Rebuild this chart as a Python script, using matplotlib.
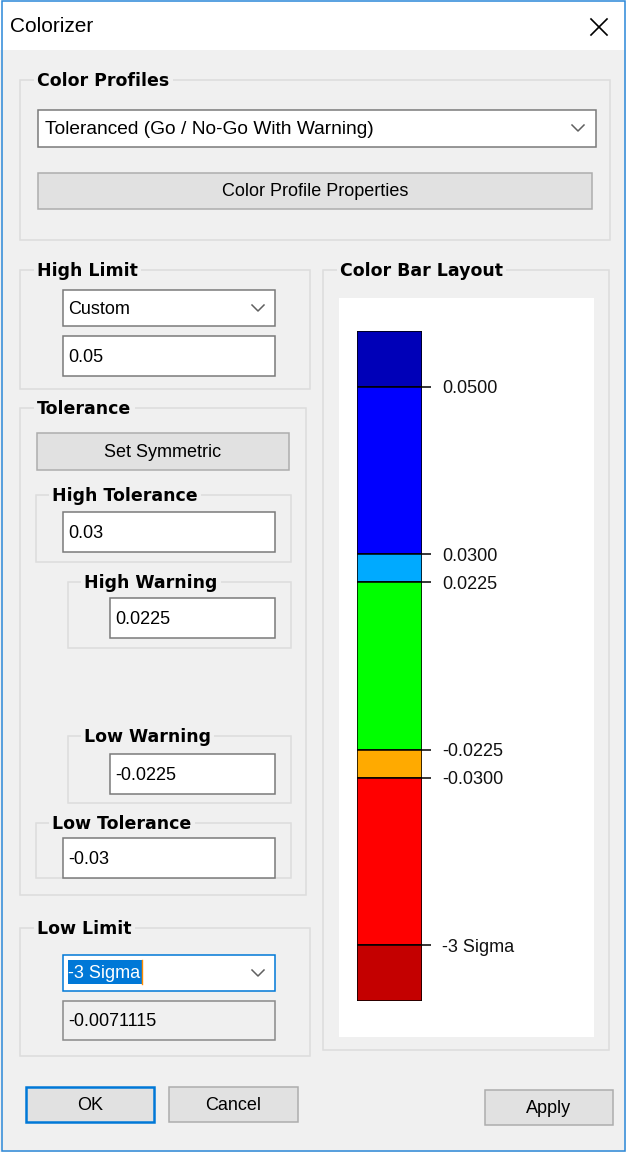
import matplotlib
matplotlib.use("Agg")
import matplotlib.pyplot as plt
from matplotlib.patches import Rectangle

# color bar layout data (top to bottom)
segment_colors = ['#0000b8', '#0000ff', '#00aaff', '#00ff00', '#ffaa00', '#ff0000', '#c40000']
segment_sizes = [2, 6, 1, 6, 1, 6, 2]
boundary_labels = ['0.0500', '0.0300', '0.0225', '-0.0225', '-0.0300', '-3 Sigma']

# dialog field values
profile_name = 'Toleranced (Go / No-Go With Warning)'
high_limit_mode = 'Custom'
high_limit = '0.05'
high_tolerance = '0.03'
high_warning = '0.0225'
low_warning = '-0.0225'
low_tolerance = '-0.03'
low_limit_mode = '-3 Sigma'
low_limit = '-0.0071115'

W, H = 626, 1152
BG = '#f0f0f0'
LINE = '#dcdcdc'
REG = 'Liberation Sans'
BOLD = 'DejaVu Sans'

fig = plt.figure(figsize=(W / 100, H / 100), dpi=100)
fig.patch.set_facecolor(BG)
ax = fig.add_axes([0, 0, 1, 1])
ax.set_xlim(0, W)
ax.set_ylim(H, 0)
ax.axis('off')


def rect(x0, y0, x1, y1, fc='none', ec='none', lw=0.75, z=1):
    ax.add_patch(Rectangle((x0, y0), x1 - x0, y1 - y0, facecolor=fc,
                           edgecolor=ec, linewidth=lw, zorder=z))


def group(x0, y0, x1, y1, label, lx):
    rect(x0, y0, x1, y1, ec=LINE, lw=1.1)
    ax.text(lx, y0 + 1, label, fontsize=12.5, fontweight='bold', family=BOLD,
            va='center', ha='left', zorder=3,
            bbox=dict(facecolor=BG, edgecolor='none', pad=2.5))


def edit(x0, y0, x1, y1, text, tx=None, fc='white', ec='#7a7a7a', fs=13):
    rect(x0, y0, x1, y1, fc=fc, ec=ec, lw=1.1, z=2)
    if text:
        ax.text(tx if tx else x0 + 5, (y0 + y1) / 2 + 1, text, fontsize=fs,
                family=REG, va='center', ha='left', zorder=4)


def chevron(x, y):
    ax.plot([x - 6, x, x + 6], [y - 3, y + 3, y - 3], color='#606060',
            lw=1.1, zorder=4)


def button(x0, y0, x1, y1, text, ec='#adadad', lw=1.1):
    rect(x0, y0, x1, y1, fc='#e1e1e1', ec=ec, lw=lw, z=2)
    ax.text((x0 + x1) / 2, (y0 + y1) / 2 + 1, text, fontsize=13, family=REG,
            va='center', ha='center', zorder=4)


# window frame and title bar
rect(0, 0, W, 50, fc='white')
rect(1.5, 0.5, W - 1.5, H - 1.5, ec='#2b88d8', lw=1.1, z=5)
ax.text(10, 27, 'Colorizer', fontsize=15, family=REG, va='center', ha='left')
ax.plot([591, 607], [19, 35], color='black', lw=1.2)
ax.plot([591, 607], [35, 19], color='black', lw=1.2)

# color profiles
group(20, 80, 610, 240, 'Color Profiles', 37)
edit(38, 110, 596, 147, profile_name, tx=45, fs=13.8)
chevron(578, 128)
button(38, 173, 592, 209, 'Color Profile Properties')

# high limit
group(20, 270, 310, 389, 'High Limit', 37)
edit(63, 290, 275, 326, high_limit_mode, tx=68)
chevron(258, 308)
edit(63, 336, 275, 376, high_limit, tx=68)

# tolerance
group(20, 408, 306, 895, 'Tolerance', 37)
button(37, 433, 289, 470, 'Set Symmetric')
group(36, 495, 291, 562, 'High Tolerance', 52)
edit(63, 512, 275, 552, high_tolerance, tx=68)
group(68, 582, 291, 648, 'High Warning', 84)
edit(110, 598, 275, 638, high_warning, tx=115)
group(68, 736, 291, 803, 'Low Warning', 84)
edit(110, 754, 275, 794, low_warning, tx=115)
group(36, 823, 291, 878, 'Low Tolerance', 52)
edit(63, 838, 275, 878, low_tolerance, tx=68)

# low limit
group(20, 928, 310, 1056, 'Low Limit', 37)
edit(63, 955, 275, 991, '', ec='#0078d7')
rect(68, 960, 142, 984, fc='#0078d7', z=3)
ax.text(68, 973, low_limit_mode, fontsize=13, family=REG, color='white',
        va='center', ha='left', zorder=4)
ax.plot([142, 142], [960, 984], color='#ff8c00', lw=1, zorder=4)
chevron(258, 973)
edit(63, 1001, 275, 1040, low_limit, tx=68, fc=BG, ec='#8a8a8a')

# bottom buttons
button(26, 1087, 154, 1122, 'OK', ec='#0078d7', lw=1.8)
button(169, 1087, 298, 1122, 'Cancel')
button(485, 1090, 613, 1125, 'Apply')

# color bar layout panel
group(323, 270, 609, 1050, 'Color Bar Layout', 340)
rect(339, 298, 594, 1037, fc='white', z=2)

# the color bar itself, stacked segments
total = sum(segment_sizes)
bottoms = []
acc = 0
for s in segment_sizes:
    bottoms.append(acc)
    acc += s
cax = fig.add_axes([357 / W, (H - 1001) / H, 65 / W, 670 / H])
cax.bar([0] * len(segment_sizes), segment_sizes, bottom=bottoms, width=1,
        color=segment_colors, edgecolor='black', linewidth=1.1)
cax.set_xlim(-0.5, 0.5)
cax.set_ylim(total, 0)
cax.set_facecolor('none')
for sp in cax.spines.values():
    sp.set_visible(False)
cax.set_xticks([])
cax.set_yticks(bottoms[1:])
cax.set_yticklabels(boundary_labels, fontsize=13, family=REG, color='#111111')
cax.tick_params(axis='y', left=False, right=True, labelleft=False,
                labelright=True, length=6.5, width=1.1, pad=8)

fig.savefig('out.png', dpi=100, facecolor=BG)
